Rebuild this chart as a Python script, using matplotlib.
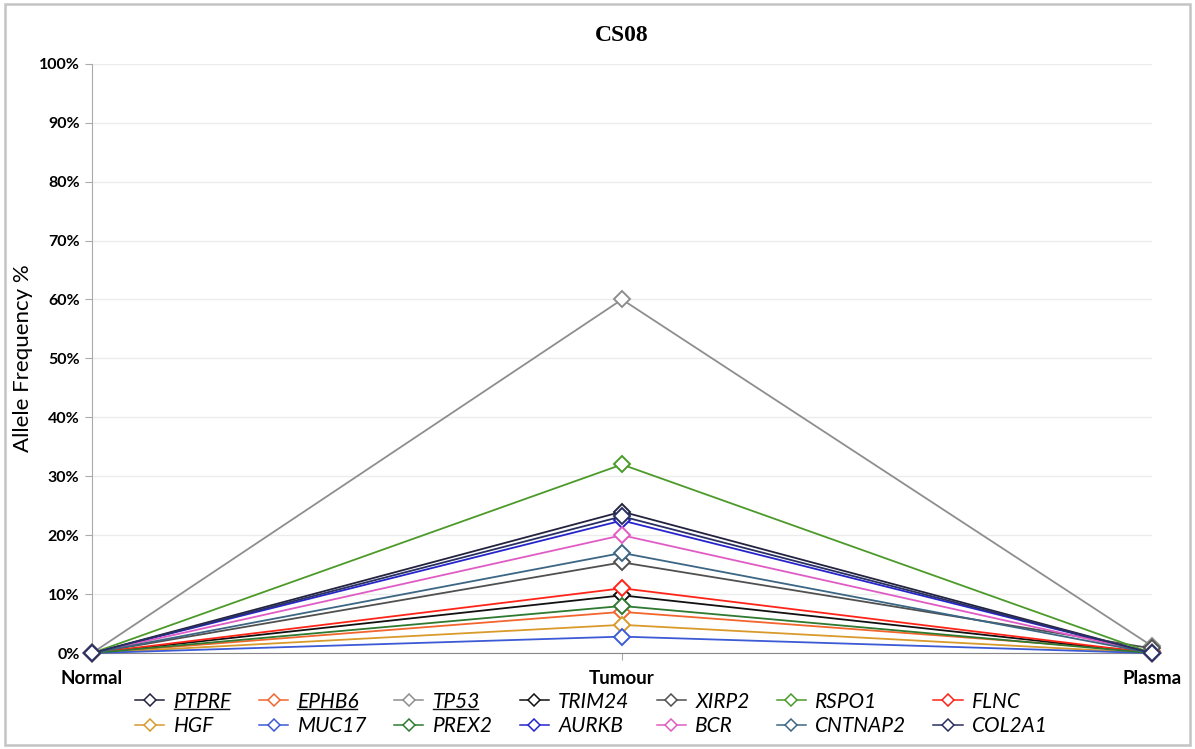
import matplotlib
matplotlib.use("Agg")
import matplotlib.pyplot as plt
from matplotlib.patches import Rectangle
from matplotlib.lines import Line2D

stages = ["Normal", "Tumour", "Plasma"]

genes = ["PTPRF", "EPHB6", "TP53", "TRIM24", "XIRP2", "RSPO1", "FLNC",
         "HGF", "MUC17", "PREX2", "AURKB", "BCR", "CNTNAP2", "COL2A1"]
normal = [0, 0, 0, 0, 0, 0, 0, 0, 0, 0, 0, 0, 0, 0]
tumour = [24.0, 7.0, 60.0, 9.8, 15.4, 32.0, 11.0, 4.8, 2.8, 8.0, 22.5, 20.0, 17.0, 23.2]
plasma = [0, 0.3, 1.2, 0, 0.8, 0, 0, 0, 0, 0, 0, 0, 0, 0]
underlined = ["PTPRF", "EPHB6", "TP53"]

colors = ["#23233f", "#f2662e", "#8e8e8e", "#111111", "#505050", "#4c9a2a", "#ff2418",
          "#d99a2c", "#3c5ad6", "#2e7a30", "#2424cc", "#e05cc4", "#3c6684", "#2a2f62"]

fig = plt.figure(figsize=(11.95, 7.49), dpi=100)
fig.patches.append(Rectangle((0.004, 0.005), 0.992, 0.99, transform=fig.transFigure,
                             fill=False, edgecolor="#c4c4c4", linewidth=1.8))

ax = fig.add_axes([0.077, 0.128, 0.887, 0.787])
x = list(range(len(stages)))
handles = []
for i, g in enumerate(genes):
    y = [normal[i], tumour[i], plasma[i]]
    h, = ax.plot(x, y, color=colors[i], lw=1.3, marker="D", markersize=8.5,
                 markerfacecolor="white", markeredgecolor=colors[i], markeredgewidth=1.4,
                 clip_on=False, zorder=3, label=g)
    handles.append(h)

ax.set_xlim(0, 2)
ax.set_ylim(0, 100)
ax.set_yticks(range(0, 101, 10))
ax.set_yticklabels([f"{v}%" for v in range(0, 101, 10)], fontfamily="Lato",
                   fontweight="bold", fontsize=11.5)
ax.set_xticks(x)
ax.set_xticklabels(stages, fontfamily="Lato", fontweight="bold", fontsize=13.5)
ax.tick_params(axis="x", length=5, color="#aaaaaa", pad=7)
ax.tick_params(axis="y", length=5, color="#aaaaaa", pad=4)
ax.grid(axis="y", color="#ececec", lw=1)
ax.set_axisbelow(True)
for s in ["top", "right"]:
    ax.spines[s].set_visible(False)
ax.spines["left"].set_color("#aaaaaa")
ax.spines["bottom"].set_color("#888888")
ax.set_ylabel("Allele Frequency %", fontfamily="Lato", fontsize=16)
ax.yaxis.set_label_coords(-0.056, 0.5)
ax.set_title("CS08", fontfamily="Liberation Serif", fontweight="bold", fontsize=17, pad=16)

# legend rows: first 7 genes on top, next 7 below
n = 7
order = []
for c in range(n):
    order += [c, c + n]
leg = fig.legend([handles[k] for k in order], [genes[k] for k in order],
                 ncol=n, loc="center", bbox_to_anchor=(0.495, 0.047), frameon=False,
                 prop={"family": "Lato", "style": "italic", "size": 15},
                 handlelength=1.4, handletextpad=0.45, columnspacing=1.3,
                 labelspacing=0.2)
for lh in leg.legend_handles:
    lh.set_markersize(6.5)
    lh.set_markeredgewidth(1.1)
    lh.set_linewidth(1.1)

fig.canvas.draw()
inv = fig.transFigure.inverted()
for t in leg.get_texts():
    if t.get_text() in underlined:
        bb = t.get_window_extent()
        (x0, y0), (x1, _) = inv.transform([(bb.x0, bb.y0), (bb.x1, bb.y1)])
        fig.lines.append(Line2D([x0, x1 - 0.002], [y0 + 0.004, y0 + 0.004],
                                transform=fig.transFigure, color="#111111", lw=1))

fig.savefig("out.png", dpi=100)
